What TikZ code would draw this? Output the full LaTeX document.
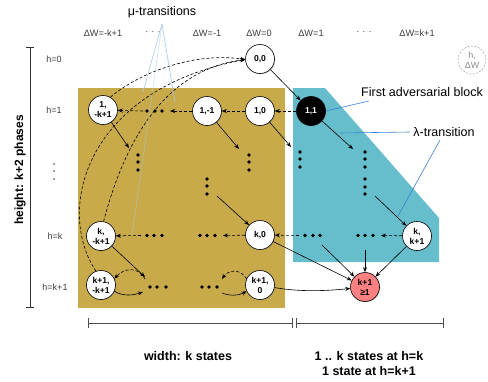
\documentclass[tikz,border=0pt]{standalone}
\usepackage{fontspec}
\setmainfont{Liberation Sans}
\usetikzlibrary{arrows.meta,shadows}
\definecolor{goldbg}{RGB}{201,170,74}
\definecolor{tealbg}{RGB}{102,190,204}
\definecolor{redstate}{RGB}{255,128,128}
\definecolor{muline}{RGB}{168,200,232}
\definecolor{callblue}{RGB}{58,128,210}
\definecolor{labelgray}{RGB}{60,60,60}
\tikzset{
  st/.style={circle, draw, line width=0.6pt, fill=white, minimum size=29pt, inner sep=0pt,
    font=\bfseries\fontsize{8.6}{10}\selectfont, align=center,
    drop shadow={opacity=0.35, shadow xshift=0.8pt, shadow yshift=-0.8pt}},
  arr/.style={-{Stealth[length=5pt,width=4pt]}, line width=0.6pt},
  darr/.style={arr, dash pattern=on 3pt off 2pt},
  dt/.style={circle, fill=black, inner sep=0pt, minimum size=3.8pt},
  hdr/.style={font=\fontsize{9.2}{11}\selectfont, text=labelgray},
  rowlab/.style={font=\fontsize{9}{11}\selectfont, text=labelgray},
  big/.style={font=\fontsize{12.5}{15}\selectfont},
  bar/.style={draw=black!70, line width=0.7pt},
}
\begin{document}
\begin{tikzpicture}[x=1pt, y=-1pt]
\useasboundingbox (0,0) rectangle (488,381);

% backgrounds
\fill[goldbg] (78,88) rectangle (285,308);
\fill[tealbg] (293,88) -- (325,88) -- (439,218) -- (439,262) -- (293,262) -- cycle;

% height axis
\draw[black!80, line width=0.7pt] (30,47) -- (30,307);
\draw[black!80, line width=0.7pt] (26,47) -- (34,47) (26,307) -- (34,307);
\node[rotate=90, font=\bfseries\fontsize{12}{14}\selectfont] (hlab) at (20,170) {height: k+2 phases};

% row labels
\node[rowlab] (h0) at (54,59) {h=0};
\node[rowlab] (h1) at (54,110) {h=1};
\foreach \yy in {164,171,179} \fill[labelgray] (54,\yy) circle (0.9pt);
\node[rowlab] (hk) at (55,236) {h=k};
\node[rowlab] (hk1) at (55,287) {h=k+1};

% column headers
\node[hdr] (c1) at (103,33) {ΔW=-k+1};
\node[hdr] (c2) at (153,33) {·\,\,·\,\,·};
\node[hdr] (c3) at (207,33) {ΔW=-1};
\node[hdr] (c4) at (259,33) {ΔW=0};
\node[hdr] (c5) at (311,33) {ΔW=1};
\node[hdr] (c6) at (364,33) {·\,\,·\,\,·};
\node[hdr] (c7) at (417,33) {ΔW=k+1};

% legend circle
\node[circle, draw=black!45, dash pattern=on 2pt off 1.5pt, minimum size=28pt, inner sep=0pt,
  align=center, text=black!45, font=\fontsize{9}{10.5}\selectfont] (leg) at (472,60) {h,\\ΔW};

% states
\node[st] (n00) at (260,59) {0,0};
\node[st, fill=black, text=white] (n11) at (311,111) {1,1};
\node[st] (n10) at (260,111) {1,0};
\node[st] (n1m1) at (207,111) {1,-1};
\node[st] (n1mk) at (103,110) {1,\\-k+1};
\node[st] (nkmk) at (101,236) {k,\\-k+1};
\node[st] (nk0) at (260,235) {k,0};
\node[st] (nkk) at (417,236) {k,\\k+1};
\node[st] (nk1mk) at (101,285) {k+1,\\-k+1};
\node[st] (nk10) at (260,285) {k+1,\\0};
\node[st, fill=redstate] (nend) at (365,287) {k+1\\≥1};

% dot groups
\foreach \x in {147,155,162} \node[dt] at (\x,111) {};
\foreach \y in {155,162,170} {\node[dt] at (138,\y) {}; \node[dt] at (249,\y) {};}
\foreach \y in {179,186,194} \node[dt] at (207,\y) {};
\foreach \y in {152,159,167} {\node[dt] at (300,\y) {}; \node[dt] at (365,\y) {};}
\foreach \y in {179,187,194} \node[dt] at (365,\y) {};
\foreach \x in {147,154,162,200,207,215,305,313,320,358,365,373} \node[dt] at (\x,235.5) {};
\foreach \x in {150,157,166,202,209,217} \node[dt] at (\x,287) {};

% connector ends at the dot groups
\coordinate (r1e) at (170,111);
\coordinate (r1w) at (143,111);
\coordinate (a1) at (129,148);
\coordinate (a2) at (239,149);
\coordinate (a3) at (291,147);
\coordinate (a4) at (353,149);
\coordinate (m1) at (217,196);
\coordinate (m2) at (375,196);
\coordinate (rk1) at (381,235.5);
\coordinate (rk2) at (299,235.5);
\coordinate (rk3) at (223,235.5);
\coordinate (rk4) at (141,235.5);
\coordinate (a5) at (145,277);
\coordinate (b1) at (145,279);
\coordinate (b2) at (143,292);
\coordinate (b3) at (222,279);
\coordinate (b4) at (222,293);
\coordinate (e1) at (322,245);
\coordinate (e2) at (365,250);

% transitions
\draw[arr] (n00) -- (n11);
\draw[darr] (n11) -- (n10);
\draw[darr] (n10) -- (n1m1);
\draw[darr] (n1m1) -- (r1e);
\draw[darr] (r1w) -- (n1mk);
\draw[arr] (n1mk) -- (a1);
\draw[arr] (n1m1) -- (a2);
\draw[arr] (n10) -- (a3);
\draw[arr] (n11) -- (a4);
\draw[arr] (m1) -- (nk0);
\draw[arr] (m2) -- (nkk);
\draw[darr] (nkk) -- (rk1);
\draw[darr] (rk2) -- (nk0);
\draw[darr] (nk0) -- (rk3);
\draw[darr] (rk4) -- (nkmk);
\draw[arr] (nkmk) -- (a5);
\draw[darr] (b1) .. controls (138,266) and (124,268) .. (nk1mk.25);
\draw[arr] (nk1mk.-25) .. controls (124,297) and (134,295) .. (b2);
\draw[darr] (nk10.155) .. controls (240,268) and (228,270) .. (b3);
\draw[arr] (b4) .. controls (230,296) and (238,296) .. (nk10.205);
\draw[arr] (nk10) .. controls (300,292) and (325,291) .. (nend);
\draw[arr] (nk0) -- (nend);
\draw[arr] (e1) -- (nend);
\draw[arr] (e2) -- (nend);
\draw[arr] (nkk) -- (nend);

% mu-transitions back to the start state
\draw[darr] (n1mk.60) .. controls (140,72) and (195,52) .. (n00.182);
\draw[darr] (nkmk.80) .. controls (125,140) and (165,70) .. (n00.182);
\draw[darr] (nk1mk.110) .. controls (55,210) and (85,90) .. (n00.182);

% callouts
\node[big] (mu) at (162,12) {μ-transitions};
\coordinate (mutip) at (162,24);
\coordinate (mu1) at (143,92);
\coordinate (mu2) at (132,235);
\coordinate (mu3) at (175,102);
\draw[muline, line width=0.6pt] (mutip) -- (mu1);
\draw[muline, line width=0.6pt, opacity=0.6] (mutip) -- (mu2);
\draw[muline, line width=0.6pt] (mutip) -- (mu3);

\node[big] (fab) at (422,92) {First adversarial block};
\coordinate (fabt) at (369,101);
\draw[callblue, line width=0.6pt] (fabt) -- (n11.east);

\node[big] (lam) at (444,132) {λ-transition};
\coordinate (lam1) at (340,133);
\coordinate (lam2) at (440,140);
\coordinate (lam3) at (398,216);
\draw[callblue, line width=0.6pt] (lam.west) -- (lam1);
\draw[callblue, line width=0.6pt] (lam2) -- (lam3);

% width bars
\draw[bar] (88,323) -- (292,323);
\draw[bar] (88,318) -- (88,328) (292,318) -- (292,328);
\draw[bar] (296,323) -- (443,323);
\draw[bar] (296,318) -- (296,328) (443,318) -- (443,328);
\node[font=\bfseries\fontsize{12.5}{15}\selectfont] (wl) at (188,356) {width: k states};
\node[font=\bfseries\fontsize{12.5}{15}\selectfont, align=center] (wr) at (369,363.5) {1 .. k states at h=k\\1 state at h=k+1};
\end{tikzpicture}
\end{document}
